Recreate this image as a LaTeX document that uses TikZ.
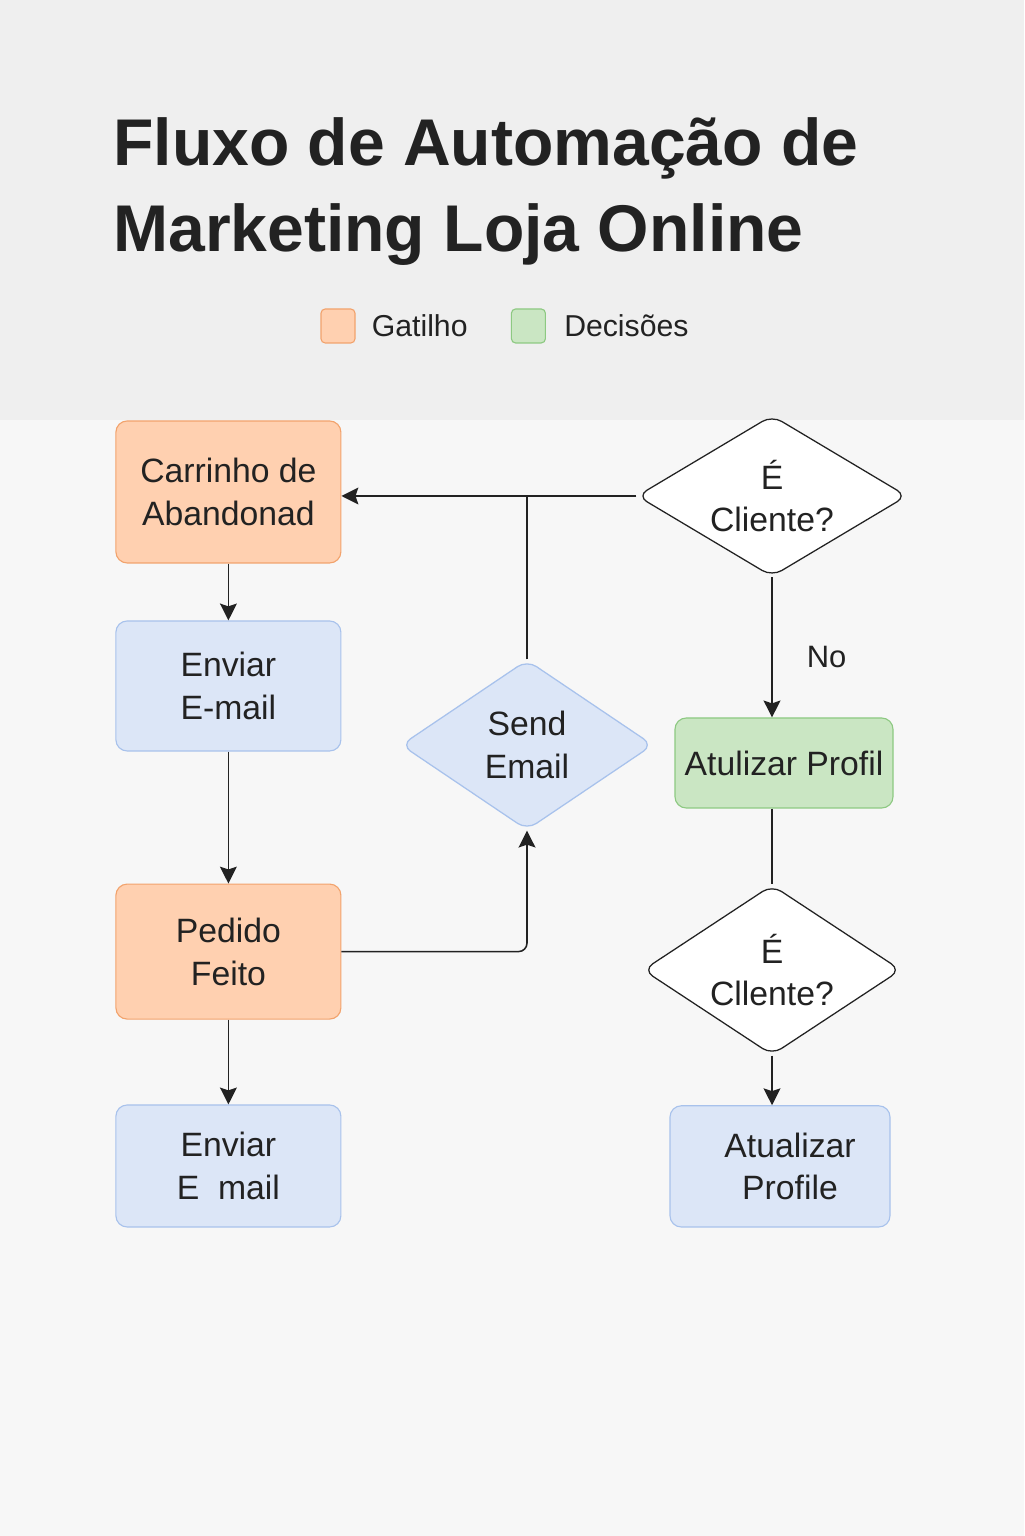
\documentclass[tikz,border=0pt]{standalone}
\usepackage{fontspec}
\setmainfont{Liberation Sans}
\usetikzlibrary{shapes.geometric}
\usetikzlibrary{arrows.meta}
\usetikzlibrary{positioning}

\definecolor{headerbg}{HTML}{EFEFEF}
\definecolor{pagebg}{HTML}{F7F7F7}
\definecolor{ink}{HTML}{222222}
\definecolor{triggerfill}{HTML}{FFD0B0}
\definecolor{triggerline}{HTML}{F2A36D}
\definecolor{actionfill}{HTML}{DCE6F7}
\definecolor{actionline}{HTML}{A8C2EC}
\definecolor{decisionfill}{HTML}{CAE6C3}
\definecolor{decisionline}{HTML}{8DC982}

\newcommand{\flowfont}{\fontsize{24}{30.5}\selectfont}

\begin{document}
\begin{tikzpicture}[
            trigger/.style={rectangle, rounded corners=8pt, draw=triggerline, fill=triggerfill, line width=0.8pt, align=center, text=ink, font=\flowfont, inner sep=0pt},
            action/.style={rectangle, rounded corners=8pt, draw=actionline, fill=actionfill, line width=0.8pt, align=center, text=ink, font=\flowfont, inner sep=0pt},
            decision/.style={rectangle, rounded corners=8pt, draw=decisionline, fill=decisionfill, line width=0.8pt, align=center, text=ink, font=\flowfont, inner sep=0pt},
            question/.style={diamond, rounded corners=8pt, draw=ink, fill=white, line width=0.9pt, align=center, text=ink, font=\flowfont, inner sep=0pt},
            legendbox/.style={rectangle, rounded corners=3pt, line width=0.8pt, minimum size=0.85cm, inner sep=0pt},
            legendtext/.style={text=ink, font=\fontsize{21.5}{26}\selectfont, inner sep=0pt, anchor=west},
            titletext/.style={text=ink, font=\fontsize{47}{62}\selectfont\bfseries, inner sep=0pt, anchor=base west},
            flow/.style={draw=ink, line width=1.1pt},
            arrow/.style={flow, -{Stealth[length=12pt, width=12pt, inset=2pt]}}
        ]
            \useasboundingbox (0, 0) rectangle (25.6, 38.4);

            % background
            \fill[pagebg] (0, 0) rectangle (25.6, 27.9);
            \fill[headerbg] (0, 27.9) rectangle (25.6, 38.4);

            % title
            \node[titletext] (title1) at (2.825, 34.25) {Fluxo de Automação de};
            \node[titletext] (title2) at (2.825, 32.1) {Marketing Loja Online};

            % legend
            \node[legendbox, draw=triggerline, fill=triggerfill] (gatbox) at (8.45, 30.25) {};
            \node[legendtext, right=0.4cm of gatbox] (gattext) {Gatilho};
            \node[legendbox, draw=decisionline, fill=decisionfill] (decbox) at (13.21, 30.25) {};
            \node[legendtext, right=0.45cm of decbox] (dectext) {Decisões};

            % left column
            \node[trigger, minimum width=5.625cm, minimum height=3.55cm] (carrinho) at (5.71, 26.1) {Carrinho de\\Abandonad};
            \node[action, minimum width=5.625cm, minimum height=3.25cm] (enviar1) at (5.71, 21.25) {Enviar\\E-mail};
            \node[trigger, minimum width=5.625cm, minimum height=3.375cm] (pedido) at (5.71, 14.61) {Pedido\\Feito};
            \node[action, minimum width=5.625cm, minimum height=3.05cm] (enviar2) at (5.71, 9.25) {Enviar\\E\ \ mail};

            % middle
            \node[question, aspect=1.46, draw=actionline, fill=actionfill, minimum width=6.3cm, minimum height=4.25cm] (send) at (13.175, 19.775) {Send\\Email};

            % right column
            \node[question, aspect=1.68, minimum width=6.75cm, minimum height=4.03cm] (cliente1) at (19.3, 26.0) {É\\Cliente?};
            \node[decision, minimum width=5.45cm, minimum height=2.25cm] (atulizar) at (19.6, 19.325) {Atulizar Profil};
            \node[question, aspect=1.52, minimum width=6.45cm, minimum height=4.25cm] (cliente2) at (19.3, 14.15) {É\\Cllente?};
            \node[action, minimum width=5.5cm, minimum height=3.03cm] (atualizar) at (19.5, 9.24) {\hspace*{0.5cm}Atualizar\\\hspace*{0.5cm}Profile};

            % connectors
            \draw[arrow] (carrinho) -- (enviar1);
            \draw[arrow] (enviar1) -- (pedido);
            \draw[arrow] (pedido) -- (enviar2);
            \draw[arrow, rounded corners=6pt] (pedido.east) -| (send.south);
            \draw[flow] (send.north) -- (send.north |- cliente1.west);
            \draw[arrow] (cliente1.west) -- (carrinho.east |- cliente1.west);
            \draw[arrow] (cliente1.south) -- (cliente1.south |- atulizar.north)
                node[pos=0.57, right=0.85cm, inner sep=0pt, text=ink, font=\fontsize{22}{26}\selectfont] (nolabel) {No};
            \draw[flow] (cliente1.south |- atulizar.south) -- (cliente2.north);
            \draw[arrow] (cliente2.south) -- (cliente2.south |- atualizar.north);

        \end{tikzpicture}
\end{document}
